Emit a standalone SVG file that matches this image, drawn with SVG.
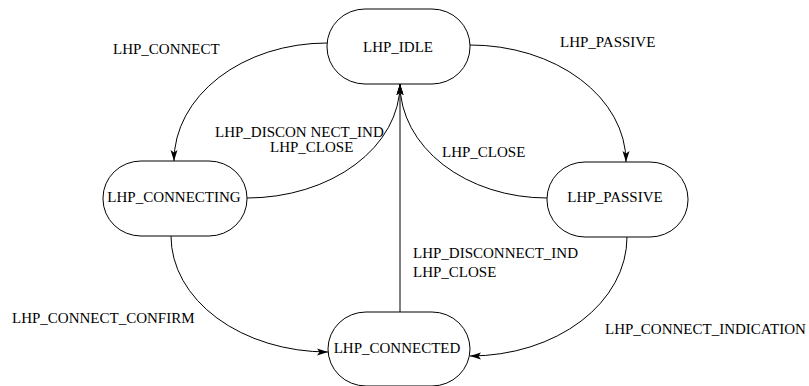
<svg xmlns="http://www.w3.org/2000/svg" width="809" height="386" viewBox="0 0 809 386">
  <defs>
    <marker id="arrow" viewBox="0 0 11 8" refX="11" refY="4" markerWidth="11" markerHeight="8" markerUnits="userSpaceOnUse" orient="auto">
      <path d="M0,0.5 L11,4 L0,7.5 L2.5,4 Z" fill="#000"/>
    </marker>
  </defs>
  <style>
    .state { fill: #fff; stroke: #000; stroke-width: 1; }
    .edge { fill: none; stroke: #000; stroke-width: 1; marker-end: url(#arrow); }
    text { font-family: "Liberation Serif", "Times New Roman", serif; font-size: 15px; fill: #000; }
    .mid { text-anchor: middle; }
  </style>

  <!-- transitions -->
  <g id="connectors">
    <path class="edge" d="M327,43 A153,118 0 0 0 174,161"/>
    <path class="edge" d="M470,45 A156,117 0 0 1 626,162"/>
    <path class="edge" d="M247,198 A153,114 0 0 0 400,84"/>
    <path class="edge" d="M547,198 A147,114 0 0 1 400,84"/>
    <path class="edge" d="M400,312 L400,84"/>
    <path class="edge" d="M171,236 A157,116 0 0 0 328,352"/>
    <path class="edge" d="M627,237 A157,119 0 0 1 470,356"/>
  </g>

  <!-- transition labels -->
  <g id="labels">
    <text x="113" y="54">LHP_CONNECT</text>
    <text x="560" y="47">LHP_PASSIVE</text>
    <text x="215" y="137">LHP_DISCON NECT_IND</text>
    <text x="270" y="152">LHP_CLOSE</text>
    <text x="442" y="157">LHP_CLOSE</text>
    <text x="413" y="258">LHP_DISCONNECT_IND</text>
    <text x="413" y="277">LHP_CLOSE</text>
    <text x="12" y="323">LHP_CONNECT_CONFIRM</text>
    <text x="605" y="334">LHP_CONNECT_INDICATION</text>
  </g>

  <g id="idle">
    <rect class="state" x="327" y="9" width="143" height="75" rx="38" ry="37"/>
    <text class="mid" x="398" y="52">LHP_IDLE</text>
  </g>
  <g id="connecting">
    <rect class="state" x="103" y="161" width="144" height="75" rx="38" ry="37"/>
    <text class="mid" x="174" y="202">LHP_CONNECTING</text>
  </g>
  <g id="passive">
    <rect class="state" x="547" y="162" width="141" height="75" rx="38" ry="37"/>
    <text class="mid" x="615" y="202">LHP_PASSIVE</text>
  </g>
  <g id="connected">
    <rect class="state" x="328" y="312" width="142" height="74" rx="38" ry="37"/>
    <text class="mid" x="397" y="353">LHP_CONNECTED</text>
  </g>
</svg>
